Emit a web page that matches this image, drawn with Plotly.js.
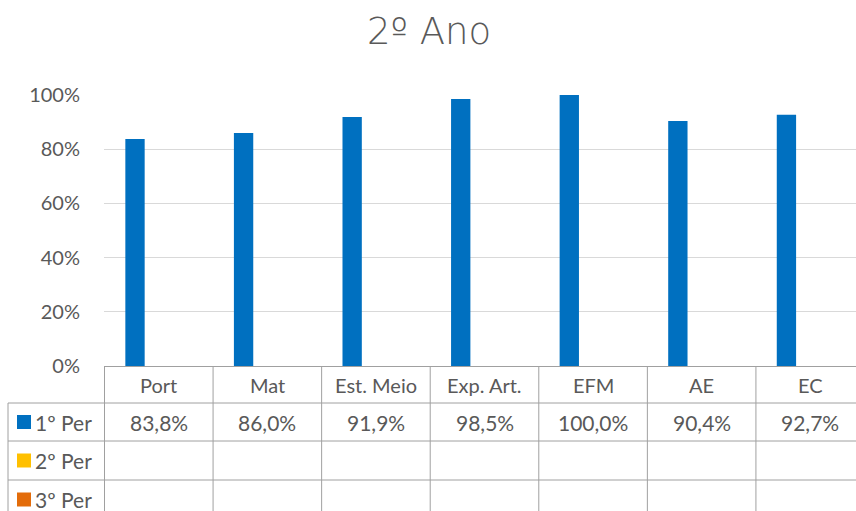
<!DOCTYPE html>
<html>
<head>
<meta charset="utf-8">
<script src="https://cdn.plot.ly/plotly-3.0.1.min.js"></script>
<style>
  html, body { margin: 0; padding: 0; overflow: hidden; background: #fff; }
  #chart { width: 870px; height: 511px; }
</style>
</head>
<body>
<div id="chart"></div>
<script>
// Subjects (categories) and the three term series
const categories = ["Port", "Mat", "Est. Meio", "Exp. Art.", "EFM", "AE", "EC"];
const seriesNames = ["1º Per", "2º Per", "3º Per"];
const per1 = [0.838, 0.860, 0.919, 0.985, 1.000, 0.904, 0.927];
const per2 = [null, null, null, null, null, null, null];
const per3 = [null, null, null, null, null, null, null];
const seriesColors = ["#0070C0", "#FFC000", "#E36C0A"];
const yTickVals = [0, 0.2, 0.4, 0.6, 0.8, 1.0];

const W = 870, H = 511;
const M = { l: 104, r: 5, t: 95, b: 145 };
const plotW = W - M.l - M.r, plotH = H - M.t - M.b;
const TEXT = "#595959", LINE = "#A0A0A0";

// pixel -> paper helpers for the data table drawn under the plot
const px = X => (X - M.l) / plotW;
const py = Y => (H - M.b - Y) / plotH;

const allSeries = [per1, per2, per3];
const traces = allSeries.map((vals, i) => ({
  type: "bar",
  name: seriesNames[i],
  x: categories,
  y: vals,
  marker: { color: seriesColors[i] },
  hoverinfo: "skip",
  showlegend: false
}));

const fmt = v => (v == null ? "" : (v * 100).toFixed(1).replace(".", ",") + "%");

const shapes = [];
const annotations = [];

// row boundaries of the table (pixels)
const headerTop = 366, rowLines = [403, 441, 480, 519];
const tableLeft = 8;

// vertical column separators at category boundaries
for (let k = 0; k <= categories.length; k++) {
  shapes.push({
    type: "line", xref: "x", yref: "paper",
    x0: k - 0.5, x1: k - 0.5, y0: py(headerTop), y1: py(H + 5),
    line: { color: LINE, width: 1 }
  });
}
// horizontal lines of the body rows
rowLines.forEach(Y => {
  shapes.push({
    type: "line", xref: "paper", yref: "paper",
    x0: px(tableLeft), x1: 1.02, y0: py(Y), y1: py(Y),
    line: { color: LINE, width: 1 }
  });
});
// left border of the legend column
shapes.push({
  type: "line", xref: "paper", yref: "paper",
  x0: px(tableLeft), x1: px(tableLeft), y0: py(rowLines[0]), y1: py(H + 5),
  line: { color: LINE, width: 1 }
});

// header row: category names
categories.forEach(c => {
  annotations.push({
    x: c, xref: "x", y: py((headerTop + rowLines[0]) / 2), yref: "paper",
    text: c, showarrow: false, xanchor: "center", yanchor: "middle",
    font: { size: 20, color: TEXT }
  });
});

// body rows: legend key + values
allSeries.forEach((vals, i) => {
  const top = rowLines[i], bot = rowLines[i + 1];
  const mid = (top + bot) / 2;
  shapes.push({
    type: "rect", xref: "paper", yref: "paper",
    x0: px(17), x1: px(31), y0: py(mid - 7), y1: py(mid + 7),
    fillcolor: seriesColors[i], line: { width: 0 }
  });
  annotations.push({
    x: px(33), xref: "paper", y: py(mid), yref: "paper",
    text: seriesNames[i], showarrow: false, xanchor: "left", yanchor: "middle",
    font: { size: 21, color: TEXT }
  });
  vals.forEach((v, j) => {
    if (v == null) return;
    annotations.push({
      x: categories[j], xref: "x", y: py(mid), yref: "paper",
      text: fmt(v), showarrow: false, xanchor: "center", yanchor: "middle",
      font: { size: 21, color: TEXT }
    });
  });
});

const layout = {
  width: W, height: H,
  margin: M,
  paper_bgcolor: "#fff", plot_bgcolor: "#fff",
  font: { family: "Lato, 'Open Sans', sans-serif", color: TEXT, size: 20 },
  title: {
    text: "2º Ano",
    font: { family: "'DejaVu Sans', sans-serif", size: 37, color: TEXT, weight: 200 },
    xref: "container", x: 429 / W, xanchor: "center",
    yref: "container", y: 1 - 31 / H, yanchor: "middle"
  },
  barmode: "group",
  bargap: 0.343,
  bargroupgap: 0.187,
  xaxis: {
    type: "category",
    showticklabels: false,
    showgrid: false,
    zeroline: false,
    showline: true, linecolor: LINE, linewidth: 1,
    ticks: ""
  },
  yaxis: {
    range: [0, 1],
    tickvals: yTickVals,
    tickformat: ".0%",
    showgrid: true, gridcolor: "#D9D9D9", gridwidth: 1,
    zeroline: false, showline: false,
    ticks: "outside", ticklen: 19, tickcolor: "rgba(0,0,0,0)",
    tickfont: { size: 20, color: TEXT },
    fixedrange: true
  },
  shapes: shapes,
  annotations: annotations
};

Plotly.newPlot("chart", traces, layout, { staticPlot: true, displayModeBar: false });
</script>
</body>
</html>
